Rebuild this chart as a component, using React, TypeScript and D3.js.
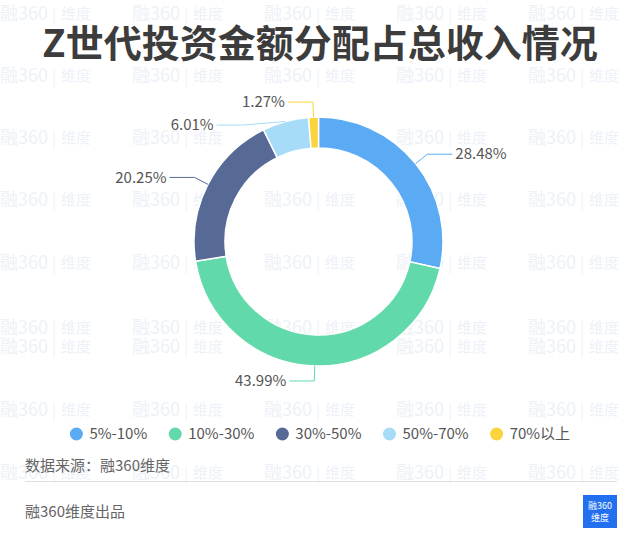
import React, { useEffect, useRef } from "react";
import * as d3 from "d3";

const categories = ["5%-10%", "10%-30%", "30%-50%", "50%-70%", "70%以上"];
const values = [28.48, 43.99, 20.25, 6.01, 1.27];
const colors = ["#5aabf4", "#62d9aa", "#566a95", "#a6dcf8", "#fbd33c"];
const title = "Z世代投资金额分配占总收入情况";
const sourceText = "数据来源：融360维度";
const footerText = "融360维度出品";
const watermarkRows = [14, 76, 138, 200, 263, 328, 347, 410, 473];

const W = 640;
const H = 544;
const FONT = '"Noto Sans CJK SC", "Noto Sans", sans-serif';

export default function App() {
  const ref = useRef<SVGSVGElement>(null);
  useEffect(() => {
    const svg = d3.select(ref.current);
    svg.selectAll("*").remove();
    svg.append("rect").attr("width", W).attr("height", H).attr("fill", "#fff");

    // watermark
    const wm = svg.append("g").attr("font-family", FONT).attr("font-size", 18);
    const cols = d3.range(0, W, 132);
    watermarkRows.forEach((y) => {
      cols.forEach((x) => {
        const g = wm.append("g").attr("transform", `translate(${x},${y})`);
        g.append("text").attr("x", 0).attr("dy", "0.35em").attr("fill", "#edf1f8").text("融360");
        g.append("text").attr("x", 52).attr("dy", "0.35em").attr("fill", "#f1f3f7").attr("font-size", 16).text("|");
        g.append("text").attr("x", 61).attr("dy", "0.35em").attr("fill", "#edf1f8").attr("font-size", 15).text("维度");
      });
    });

    // title
    svg.append("text")
      .attr("x", 320).attr("y", 57)
      .attr("text-anchor", "middle")
      .attr("font-family", FONT).attr("font-weight", 700).attr("font-size", 38)
      .attr("fill", "#3c3c3c")
      .text(title);

    // donut
    const cx = 318.5, cy = 241.5, R = 124.5, r = 93.5;
    const pie = d3.pie<number>().sort(null).value((d) => d);
    const arcs = pie(values);
    const arc = d3.arc<d3.PieArcDatum<number>>().innerRadius(r).outerRadius(R);
    const g = svg.append("g").attr("transform", `translate(${cx},${cy})`);
    g.selectAll("path.slice").data(arcs).enter().append("path")
      .attr("class", "slice")
      .attr("d", arc as any)
      .attr("fill", (_d, i) => colors[i])
      .attr("stroke", "#fff").attr("stroke-width", 1.5);

    // labels
    const len1 = 15, len2 = 25, R2 = R + len1;
    type L = { i: number; mid: number; side: number; p1: [number, number]; p2: [number, number]; y: number; moved: boolean };
    const labels: L[] = arcs.map((a, i) => {
      const mid = (a.startAngle + a.endAngle) / 2;
      const side = Math.sin(mid) >= 0 ? 1 : -1;
      const p1: [number, number] = [Math.sin(mid) * R, -Math.cos(mid) * R];
      const p2: [number, number] = [Math.sin(mid) * R2, -Math.cos(mid) * R2];
      return { i, mid, side, p1, p2, y: p2[1], moved: false };
    });
    [1, -1].forEach((s) => {
      const grp = labels.filter((l) => l.side === s).sort((a, b) => a.y - b.y);
      for (let k = 1; k < grp.length; k++) {
        if (grp[k].y - grp[k - 1].y < 23) {
          grp[k].y = grp[k - 1].y + 23;
          grp[k].moved = true;
        }
      }
    });
    labels.forEach((l) => {
      let p2x = l.p2[0];
      if (l.moved) {
        const dy = l.y;
        p2x = l.side * Math.sqrt(Math.max(0, R2 * R2 - dy * dy));
      }
      const p2: [number, number] = [p2x, l.y];
      const p3: [number, number] = [p2x + l.side * len2, l.y];
      g.append("path")
        .attr("d", d3.line()([l.p1, p2, p3]) as string)
        .attr("fill", "none").attr("stroke", colors[l.i]).attr("stroke-width", 1);
      g.append("text")
        .attr("x", p3[0] + l.side * 3).attr("y", l.y).attr("dy", "0.35em")
        .attr("text-anchor", l.side > 0 ? "start" : "end")
        .attr("font-family", FONT).attr("font-size", 15).attr("fill", "#555")
        .text(values[l.i].toFixed(2) + "%");
    });

    // legend
    const lg = svg.append("g").attr("font-family", FONT).attr("font-size", 15);
    const items = categories.map((c, i) => {
      const it = lg.append("g");
      it.append("circle").attr("cx", 0).attr("cy", 0).attr("r", 6.5).attr("fill", colors[i]);
      const t = it.append("text").attr("x", 13).attr("dy", "0.35em").attr("fill", "#555").text(c);
      const w = (t.node() as SVGTextElement).getComputedTextLength();
      return { it, w: 19.5 + w };
    });
    const gap = 21.5;
    const total = d3.sum(items, (d) => d.w) + gap * (items.length - 1);
    let x = 320 - total / 2;
    items.forEach((d) => {
      d.it.attr("transform", `translate(${x + 6.5},434)`);
      x += d.w + gap;
    });

    // source & footer
    svg.append("text").attr("x", 25).attr("y", 466).attr("dy", "0.35em")
      .attr("font-family", FONT).attr("font-size", 15).attr("fill", "#666").text(sourceText);
    svg.append("line").attr("x1", 25).attr("x2", 617).attr("y1", 481.5).attr("y2", 481.5)
      .attr("stroke", "#dcdfe6").attr("stroke-width", 1);
    svg.append("text").attr("x", 25).attr("y", 512).attr("dy", "0.35em")
      .attr("font-family", FONT).attr("font-size", 15).attr("fill", "#666").text(footerText);

    const logo = svg.append("g").attr("transform", "translate(583,495)");
    logo.append("rect").attr("width", 34).attr("height", 33).attr("fill", "#2270f0");
    logo.append("text").attr("x", 17).attr("y", 14).attr("text-anchor", "middle")
      .attr("font-family", FONT).attr("font-size", 9).attr("fill", "#fff").text("融360");
    logo.append("text").attr("x", 17).attr("y", 26).attr("text-anchor", "middle")
      .attr("font-family", FONT).attr("font-size", 9).attr("fill", "#fff").text("维度");
  }, []);
  return (
    <svg
      ref={ref}
      width={W}
      height={H}
      style={{ position: "absolute", left: 0, top: 0, display: "block" }}
    />
  );
}
